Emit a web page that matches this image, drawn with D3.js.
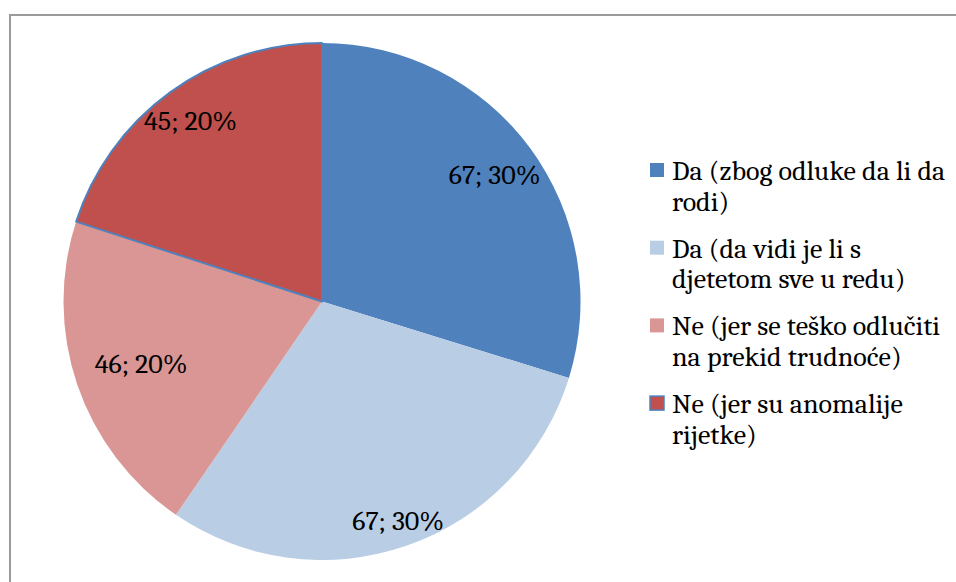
<!DOCTYPE html>
<html>
<head>
<meta charset="utf-8">
<script src="https://cdn.jsdelivr.net/npm/d3@7"></script>
<style>
  html, body { margin: 0; padding: 0; background: #fff; }
  svg { display: block; }
</style>
</head>
<body>
<svg id="chart" width="956" height="582"></svg>
<script>
// ---- Data ----
const categories = [
  "Da (zbog odluke da li da rodi)",
  "Da (da vidi je li s djetetom sve u redu)",
  "Ne (jer se teško odlučiti na prekid trudnoće)",
  "Ne (jer su anomalije rijetke)"
];
const legendLines = [
  ["Da (zbog odluke da li da", "rodi)"],
  ["Da (da vidi je li s", "djetetom sve u redu)"],
  ["Ne (jer se teško odlučiti", "na prekid trudnoće)"],
  ["Ne (jer su anomalije", "rijetke)"]
];
const values = [67, 67, 46, 45];
const percentLabels = ["30%", "30%", "20%", "20%"];

// ---- Styling ----
const colors = ["#4F81BD", "#B9CDE5", "#D99694", "#C0504D"];
const outlines = [null, null, null, "#4F81BD"];
const labelRadiusFactor = [0.83, 0.897, 0.739, 0.865];
const fontFamily = "Cambria, Caladea, 'Liberation Serif', serif";
const fs = 28;

const svg = d3.select("#chart");

// frame
svg.append("rect")
  .attr("x", 10).attr("y", 15)
  .attr("width", 960).attr("height", 600)
  .attr("fill", "none")
  .attr("stroke", "#9a9a9a")
  .attr("stroke-width", 2);

const cx = 322, cy = 301.5, R = 258.5;
const g = svg.append("g").attr("transform", `translate(${cx},${cy})`);

const pie = d3.pie().sort(null).value(d => d)(values);
const arc = d3.arc().innerRadius(0).outerRadius(R);

g.selectAll("path.slice")
  .data(pie)
  .join("path")
  .attr("class", "slice")
  .attr("d", arc)
  .attr("fill", (d, i) => colors[i])
  .attr("stroke", (d, i) => outlines[i] || "none")
  .attr("stroke-width", 2)
  .attr("stroke-linejoin", "round");

g.selectAll("text.lbl")
  .data(pie)
  .join("text")
  .attr("class", "lbl")
  .attr("transform", (d, i) => {
    const a = (d.startAngle + d.endAngle) / 2;
    const r = R * labelRadiusFactor[i];
    return `translate(${Math.sin(a) * r},${-Math.cos(a) * r + 9.5})`;
  })
  .attr("text-anchor", "middle")
  .style("font-family", fontFamily)
  .style("font-size", fs + "px")
  .attr("fill", "#000")
  .text((d, i) => `${values[i]}; ${percentLabels[i]}`);

// legend
const legend = svg.append("g").attr("class", "legend");
const legendY0 = 180, itemGap = 77.7, lineH = 30.5;
legendLines.forEach((lines, i) => {
  const by = legendY0 + i * itemGap;
  legend.append("rect")
    .attr("x", 650).attr("y", by - 17)
    .attr("width", 14).attr("height", 14)
    .attr("fill", colors[i])
    .attr("stroke", outlines[i] || "none")
    .attr("stroke-width", outlines[i] ? 1.5 : 0);
  const t = legend.append("text")
    .style("font-family", fontFamily)
    .style("font-size", fs + "px")
    .attr("fill", "#000");
  lines.forEach((ln, j) => {
    t.append("tspan").attr("x", 672).attr("y", by + j * lineH).text(ln);
  });
});
</script>
</body>
</html>
